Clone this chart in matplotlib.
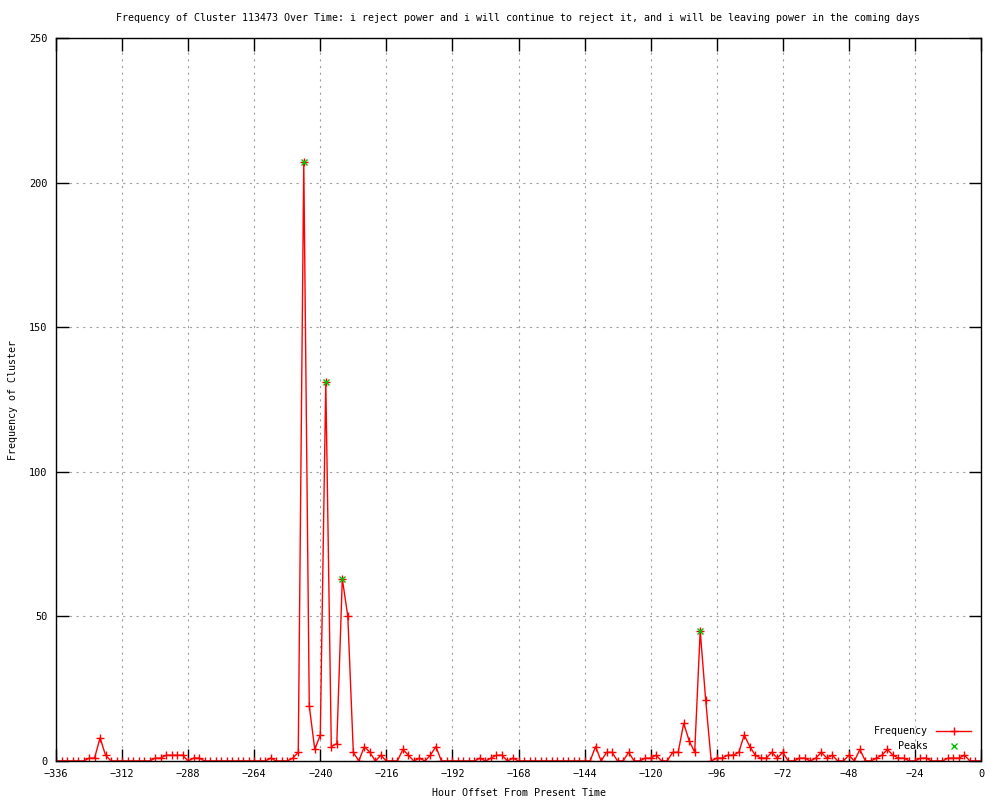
import numpy as np
import matplotlib
matplotlib.use("Agg")
import matplotlib.pyplot as plt

# données : fréquence toutes les 2 heures, de -336 h à 0 h
heures = np.arange(-336, 1, 2)
frequence = [
    0, 0, 0, 0, 0, 0, 1, 1, 8, 2,          # -336 .. -318
    0, 0, 0, 0, 0, 0, 0, 0, 1, 1,          # -316 .. -298
    2, 2, 2, 2, 0, 1, 1, 0, 0, 0,          # -296 .. -278
    0, 0, 0, 0, 0, 0, 0, 0, 0, 1,          # -276 .. -258
    0, 0, 0, 1, 3, 207, 19, 4, 9, 131,     # -256 .. -238
    5, 6, 63, 50, 3, 0, 5, 3, 0, 2,        # -236 .. -218
    0, 0, 0, 4, 2, 0, 1, 0, 2, 5,          # -216 .. -198
    0, 0, 0, 0, 0, 0, 0, 1, 0, 1,          # -196 .. -178
    2, 2, 0, 1, 0, 0, 0, 0, 0, 0,          # -176 .. -158
    0, 0, 0, 0, 0, 0, 0, 0, 5, 0,          # -156 .. -138
    3, 3, 0, 0, 3, 0, 0, 1, 1, 2,          # -136 .. -118
    0, 0, 3, 3, 13, 7, 3, 45, 21, 0,       # -116 .. -98
    1, 1, 2, 2, 3, 9, 5, 2, 1, 1,          # -96 .. -78
    3, 1, 3, 0, 0, 1, 1, 0, 1, 3,          # -76 .. -58
    1, 2, 0, 0, 2, 0, 4, 0, 0, 1,          # -56 .. -38
    2, 4, 2, 1, 1, 0, 0, 1, 1, 0,          # -36 .. -18
    0, 0, 1, 1, 1, 2, 0, 0, 0,             # -16 .. 0
]
pics_x = [-246, -238, -232, -102]
pics_y = [207, 131, 63, 45]

titre = ("Frequency of Cluster 113473 Over Time: i reject power and i will "
         "continue to reject it, and i will be leaving power in the coming days")

police = {'family': 'DejaVu Sans Mono', 'size': 7.2}

fig = plt.figure(figsize=(10, 8), dpi=100)
ax = fig.add_axes([0.056, 0.04875, 0.925, 0.90375])

ax.plot(heures, frequence, color='red', linewidth=1, marker='+',
        markersize=6, markeredgewidth=1, label='Frequency')
ax.plot(pics_x, pics_y, linestyle='none', color='#00c000', marker='x',
        markersize=5, markeredgewidth=1, label='Peaks')

ax.set_xlim(-336, 0)
ax.set_ylim(0, 250)
ax.set_xticks(np.arange(-336, 1, 24))
ax.set_yticks(np.arange(0, 251, 50))

ax.tick_params(direction='in', length=9, width=1, top=True, right=True,
               labelsize=7.4, pad=6)
for lab in ax.get_xticklabels() + ax.get_yticklabels():
    lab.set_family('DejaVu Sans Mono')

ax.grid(True, color='#a0a0a0', linestyle=(0, (2, 4)), linewidth=0.8)
ax.set_axisbelow(True)
for sp in ax.spines.values():
    sp.set_linewidth(1)

ax.set_title(titre, fontdict=police, pad=12)
ax.set_xlabel('Hour Offset From Present Time', fontdict=police, labelpad=6)
ax.set_ylabel('Frequency of Cluster', fontdict=police, labelpad=8)

leg = ax.legend(loc='lower right', frameon=False, markerfirst=False,
                prop=police, handlelength=3.5, labelspacing=0.45,
                borderaxespad=0.6)

plt.savefig('out.png', dpi=100)
plt.close()
